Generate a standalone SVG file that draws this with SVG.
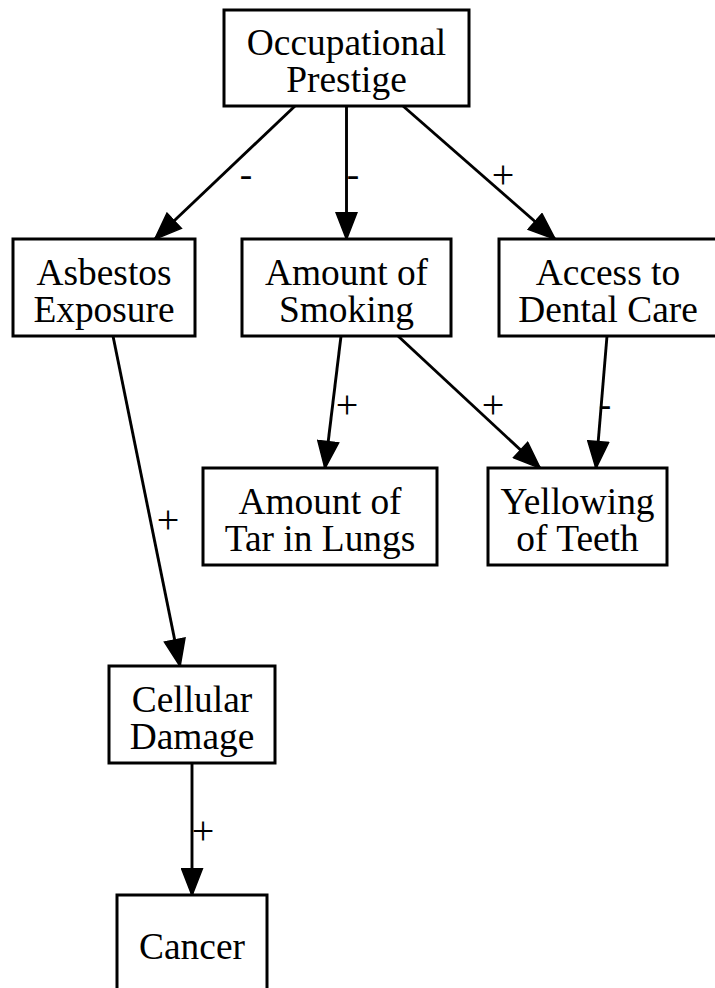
<svg xmlns="http://www.w3.org/2000/svg" width="715" height="988" viewBox="0 0 715 988">
<style>
.box{fill:#fff;stroke:#000;stroke-width:3}
.t{font-family:"Liberation Serif","Times New Roman",serif;font-size:37.4px;fill:#000;text-anchor:middle}
.p{font-size:40px}
.e{stroke:#000;stroke-width:2.9;fill:none;marker-end:url(#ah)}
</style>
<defs>
<marker id="ah" viewBox="0 0 29 23" refX="27.5" refY="11.5" markerWidth="29" markerHeight="23" orient="auto" markerUnits="userSpaceOnUse">
<path d="M1,1 L28,11.5 L1,22 Z" fill="#000" stroke="#000" stroke-width="1.5"/>
</marker>
</defs>
<rect width="715" height="988" fill="#fff"/>
<g id="edges">
<line class="e" x1="295" y1="106" x2="155" y2="239"/>
<text class="t" x="246" y="187">-</text>
<line class="e" x1="346.5" y1="106" x2="346.5" y2="239"/>
<text class="t" x="353" y="187">-</text>
<line class="e" x1="403" y1="106" x2="555" y2="239"/>
<text class="t p" x="503" y="188">+</text>
<line class="e" x1="341" y1="336" x2="325" y2="468"/>
<text class="t p" x="347" y="418">+</text>
<line class="e" x1="398" y1="336" x2="540" y2="468"/>
<text class="t p" x="493" y="418">+</text>
<line class="e" x1="607" y1="336" x2="596" y2="468"/>
<text class="t" x="605" y="417">-</text>
<line class="e" x1="113" y1="336" x2="180" y2="666"/>
<text class="t p" x="168" y="533">+</text>
<line class="e" x1="192" y1="763" x2="192" y2="895"/>
<text class="t p" x="203" y="844">+</text>
</g>
<g id="n_prestige">
<rect class="box" x="224" y="10" width="245" height="96"/>
<text class="t" x="346.5" y="55">Occupational</text>
<text class="t" x="346.5" y="92">Prestige</text>
</g>
<g id="n_asbestos">
<rect class="box" x="13" y="239" width="182" height="97"/>
<text class="t" x="104" y="284.5">Asbestos</text>
<text class="t" x="104" y="321.5">Exposure</text>
</g>
<g id="n_smoking">
<rect class="box" x="242" y="239" width="209" height="97"/>
<text class="t" x="346.5" y="284.5">Amount of</text>
<text class="t" x="346.5" y="321.5">Smoking</text>
</g>
<g id="n_dental">
<rect class="box" x="499" y="239" width="218" height="97"/>
<text class="t" x="608" y="284.5">Access to</text>
<text class="t" x="608" y="321.5">Dental Care</text>
</g>
<g id="n_tar">
<rect class="box" x="203" y="468" width="234" height="97"/>
<text class="t" x="320" y="513.5">Amount of</text>
<text class="t" x="320" y="550.5">Tar in Lungs</text>
</g>
<g id="n_yellow">
<rect class="box" x="488" y="468" width="179" height="97"/>
<text class="t" x="577.5" y="513.5">Yellowing</text>
<text class="t" x="577.5" y="550.5">of Teeth</text>
</g>
<g id="n_cellular">
<rect class="box" x="109" y="666" width="166" height="97"/>
<text class="t" x="192" y="711.5">Cellular</text>
<text class="t" x="192" y="748.5">Damage</text>
</g>
<g id="n_cancer">
<rect class="box" x="117" y="895" width="150" height="97"/>
<text class="t" x="192" y="958.5">Cancer</text>
</g>
</svg>
